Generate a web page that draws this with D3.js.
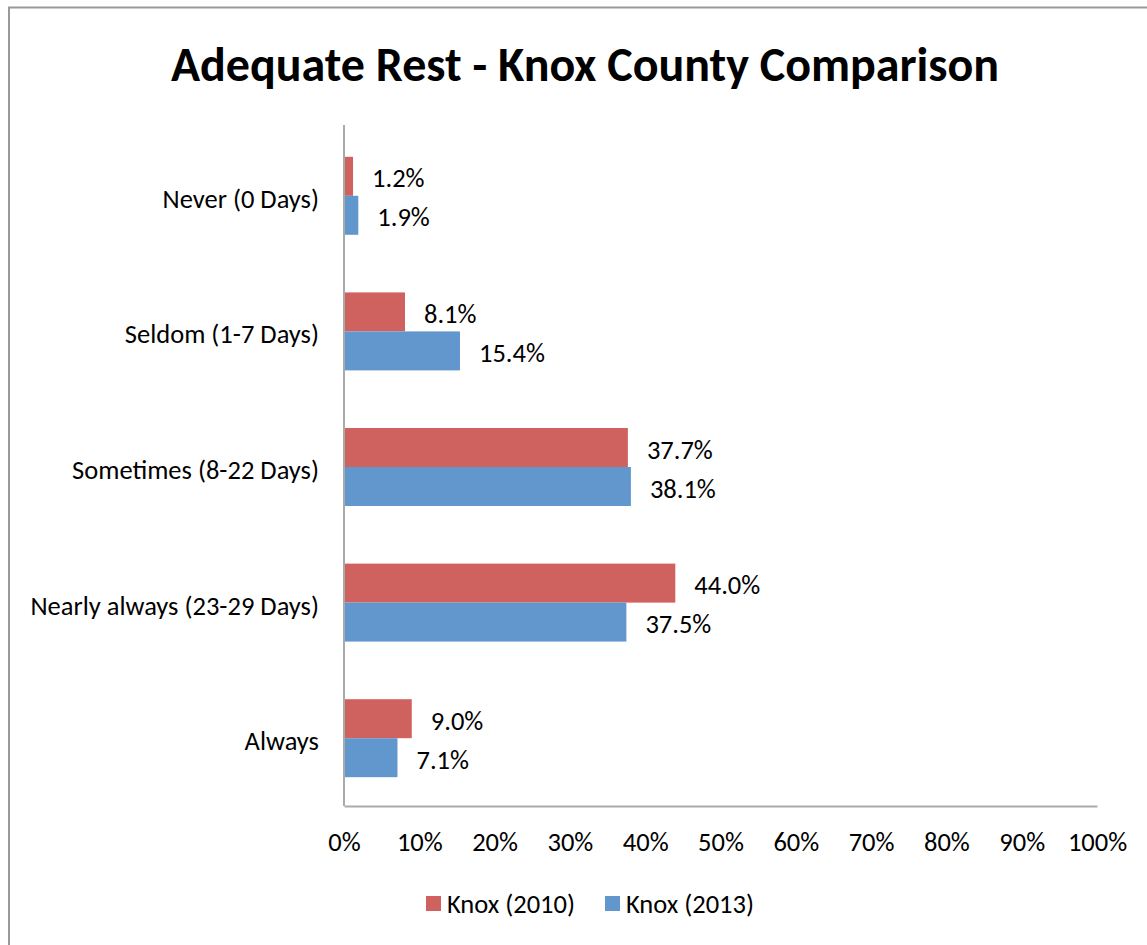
<!DOCTYPE html>
<html>
<head>
<meta charset="utf-8">
<script src="https://cdn.jsdelivr.net/npm/d3@7"></script>
<style>
  body { margin: 0; background: #fff; }
  svg text { font-family: Calibri, Carlito, Lato, "Open Sans", sans-serif; fill: #000; }
</style>
</head>
<body>
<div id="canvas"></div>
<script>
// chart data
const categories = ["Never (0 Days)", "Seldom (1-7 Days)", "Sometimes (8-22 Days)", "Nearly always (23-29 Days)", "Always"]
const seriesNames = ["Knox (2010)", "Knox (2013)"]
const knox2010 = [1.2, 8.1, 37.7, 44.0, 9.0]
const knox2013 = [1.9, 15.4, 38.1, 37.5, 7.1]
const ticks = [0, 10, 20, 30, 40, 50, 60, 70, 80, 90, 100]
const colors = ["#CF625E", "#6197CD"]

let width = 1147
let height = 945
let fs = 26.5

let svg = d3.select("#canvas").append("svg")
    .attr("width", width)
    .attr("height", height)

// outer frame (cut off at right and bottom)
svg.append("path")
    .attr("d", "M9,945 V7.5 H1147")
    .attr("fill", "none")
    .attr("stroke", "#999")
    .attr("stroke-width", 2)

svg.append("text")
    .attr("x", 585)
    .attr("y", 81)
    .attr("text-anchor", "middle")
    .attr("font-size", 48)
    .attr("font-weight", "bold")
    .text("Adequate Rest - Knox County Comparison")

let x = d3.scaleLinear().domain([0, 100]).range([344, 1097])
let y = d3.scaleBand().domain(categories).range([128, 806]).paddingInner(0.425).paddingOuter(0.2125)
let sub = d3.scaleBand().domain(seriesNames).range([0, y.bandwidth()])

let rows = categories.map((c, i) => ({cat: c, vals: [knox2010[i], knox2013[i]]}))

let groups = svg.append("g").selectAll("g")
    .data(rows)
    .enter().append("g")
    .attr("transform", d => "translate(0," + y(d.cat) + ")")

groups.selectAll("rect")
    .data(d => d.vals.map((v, j) => ({v: v, s: seriesNames[j], j: j})))
    .enter().append("rect")
    .attr("x", x(0))
    .attr("y", d => sub(d.s))
    .attr("width", d => x(d.v) - x(0))
    .attr("height", sub.bandwidth())
    .attr("fill", d => colors[d.j])

groups.selectAll("text.val")
    .data(d => d.vals.map((v, j) => ({v: v, s: seriesNames[j], j: j})))
    .enter().append("text")
    .attr("class", "val")
    .attr("x", d => x(d.v) + 19)
    .attr("y", d => sub(d.s) + sub.bandwidth() / 2)
    .attr("dy", "0.42em")
    .attr("font-size", fs)
    .text(d => d.v.toFixed(1) + "%")

// category labels
svg.append("g").selectAll("text")
    .data(categories)
    .enter().append("text")
    .attr("x", 319)
    .attr("y", d => y(d) + y.bandwidth() / 2)
    .attr("dy", "0.45em")
    .attr("text-anchor", "end")
    .attr("font-size", fs)
    .text(d => d)

// axes
let xAxis = d3.axisBottom(x).tickValues(ticks).tickSize(0).tickPadding(26).tickFormat(d => d + "%")
let gx = svg.append("g")
    .attr("transform", "translate(0,806)")
    .call(xAxis)
gx.select(".domain").attr("stroke", "#aaa").attr("stroke-width", 2)
gx.selectAll("text").attr("font-size", fs).attr("fill", "#000")

let gy = svg.append("g")
    .attr("transform", "translate(344,0)")
    .call(d3.axisLeft(y).tickSize(0).tickFormat(""))
gy.select(".domain").attr("d", "M0,125V806").attr("stroke", "#aaa").attr("stroke-width", 2)

// legend
let legend = svg.append("g").selectAll("g")
    .data(seriesNames)
    .enter().append("g")
    .attr("transform", (d, i) => "translate(" + [426, 605][i] + ",896)")
legend.append("rect")
    .attr("width", 15).attr("height", 15)
    .attr("fill", (d, i) => colors[i])
legend.append("text")
    .attr("x", 21).attr("y", 8).attr("dy", "0.35em")
    .attr("font-size", fs)
    .text(d => d)
</script>
</body>
</html>
